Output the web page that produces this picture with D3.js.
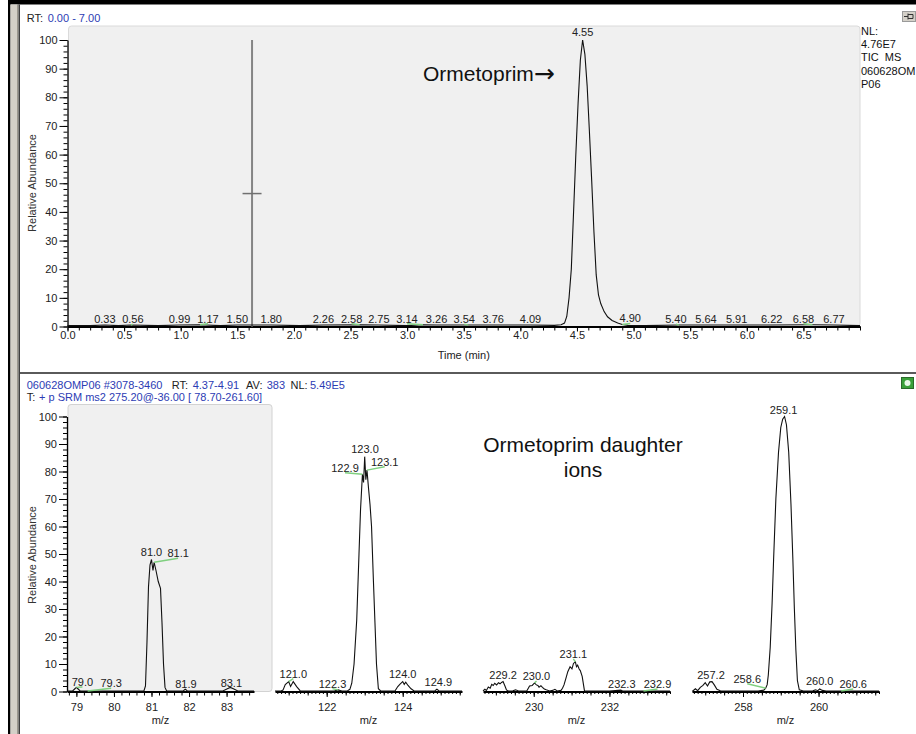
<!DOCTYPE html>
<html>
<head>
<meta charset="utf-8">
<script src="https://cdn.jsdelivr.net/npm/d3@7"></script>
<style>
  body { margin: 0; background: #fff; }
  svg { display: block; font-family: "Liberation Sans", Arial, sans-serif; }
</style>
</head>
<body>
<svg id="chart" width="916" height="734"></svg>
<script>
// ---------------- Chromatogram (TIC) ----------------
const ticTime  = [0.00, 0.20, 0.33, 0.45, 0.56, 0.80, 0.99, 1.17, 1.35, 1.50, 1.80, 2.05, 2.26, 2.58, 2.75, 3.00, 3.14, 3.26, 3.54, 3.76, 4.09, 4.30, 4.36, 4.39, 4.41, 4.43, 4.45, 4.47, 4.49, 4.51, 4.53, 4.55, 4.57, 4.59, 4.61, 4.63, 4.65, 4.67, 4.69, 4.71, 4.74, 4.77, 4.81, 4.86, 4.90, 4.95, 5.10, 5.40, 5.64, 5.91, 6.22, 6.58, 6.77, 7.00];
const ticAbund = [0.3, 0.3, 0.5, 0.3, 0.5, 0.3, 0.5, 0.6, 0.3, 0.5, 0.5, 0.3, 0.5, 0.6, 0.5, 0.3, 0.6, 0.5, 0.5, 0.5, 0.5, 0.4, 0.6, 1.2, 3.5, 10, 20, 40, 60, 78, 93, 100, 95, 84, 68, 51, 33, 18, 11, 8, 5.2, 3.4, 2.1, 1.2, 0.7, 0.4, 0.3, 0.5, 0.5, 0.5, 0.5, 0.6, 0.5, 0.3];

// labelled chromatographic peaks (retention time, abundance at the apex)
const ticPeakRT    = [0.33, 0.56, 0.99, 1.17, 1.50, 1.80, 2.26, 2.58, 2.75, 3.14, 3.26, 3.54, 3.76, 4.09, 4.55, 4.90, 5.40, 5.64, 5.91, 6.22, 6.58, 6.77];
const ticPeakAbund = [0.5, 0.5, 0.5, 0.6, 0.5, 0.5, 0.5, 0.6, 0.5, 0.6, 0.5, 0.5, 0.5, 0.5, 100, 0.7, 0.5, 0.5, 0.5, 0.5, 0.6, 0.5];

// cursor (retention time, crossbar level)
const cursorRT = 1.63;
const cursorLevel = 46.4;

const timeTicks = [0.0, 0.5, 1.0, 1.5, 2.0, 2.5, 3.0, 3.5, 4.0, 4.5, 5.0, 5.5, 6.0, 6.5];
const abundTicks = [0, 10, 20, 30, 40, 50, 60, 70, 80, 90, 100];

// ---------------- Product ion spectrum (SRM, four m/z windows) ----------------
const seg1Domain = [78.75, 83.73];
const seg1Mz  = [78.75, 78.90, 78.96, 79.00, 79.04, 79.10, 79.30, 79.70, 80.20, 80.60, 80.80, 80.84, 80.88, 80.92, 80.96, 81.00, 81.04, 81.07, 81.12, 81.18, 81.24, 81.28, 81.32, 81.36, 81.40, 81.70, 81.85, 81.90, 81.95, 82.40, 82.90, 83.02, 83.10, 83.18, 83.30, 83.73];
const seg1Int = [0.2, 0.2, 1.0, 1.5, 1.0, 0.2, 0.2, 0.2, 0.2, 0.2, 0.3, 2, 18, 38, 46, 48, 44, 47, 44, 40, 37.5, 25, 10, 1.5, 0.3, 0.2, 0.3, 0.8, 0.3, 0.2, 0.2, 1.0, 1.5, 1.0, 0.2, 0.2];
const seg1LabelMz  = [79.0, 79.3, 81.0, 81.07, 81.9, 83.1];
const seg1LabelInt = [1.5, 0.2, 48, 47, 0.8, 1.5];
const seg1Ticks = [79, 80, 81, 82, 83];

const seg2Domain = [120.64, 125.56];
const seg2Mz  = [120.64, 120.80, 120.85, 120.91, 121.00, 121.05, 121.12, 121.21, 121.30, 121.40, 121.80, 122.20, 122.30, 122.40, 122.55, 122.61, 122.66, 122.72, 122.79, 122.85, 122.89, 122.94, 122.97, 123.00, 123.03, 123.06, 123.10, 123.14, 123.18, 123.23, 123.27, 123.31, 123.36, 123.42, 123.70, 123.80, 123.87, 123.93, 124.00, 124.04, 124.08, 124.14, 124.22, 124.30, 124.60, 124.85, 124.90, 124.95, 125.20, 125.56];
const seg2Int = [0.2, 0.2, 0.5, 2.5, 3.6, 1.8, 3.6, 1.8, 0.3, 0.2, 0.2, 0.2, 0.6, 0.2, 0.3, 0.8, 3, 10, 26, 50, 66, 79, 76, 85.4, 77, 80.5, 74, 68, 60, 40, 25, 10, 1, 0.2, 0.2, 0.3, 1.8, 2.7, 3.6, 2.6, 3.4, 2.2, 1.0, 0.2, 0.2, 0.3, 0.8, 0.3, 0.2, 0.2];
const seg2LabelMz  = [121.0, 122.3, 122.94, 123.0, 123.06, 124.0, 124.9];
const seg2LabelInt = [3.6, 0.6, 79, 85.4, 80.5, 3.6, 0.8];
const seg2Ticks = [122, 124];

const seg3Domain = [228.66, 233.60];
const seg3Mz  = [228.66, 228.71, 228.75, 228.80, 228.85, 228.89, 228.93, 228.97, 229.02, 229.07, 229.11, 229.15, 229.19, 229.24, 229.28, 229.32, 229.45, 229.52, 229.60, 229.75, 229.82, 229.89, 229.96, 230.02, 230.07, 230.11, 230.14, 230.19, 230.23, 230.28, 230.33, 230.42, 230.50, 230.56, 230.62, 230.72, 230.76, 230.80, 230.85, 230.90, 230.96, 231.01, 231.05, 231.10, 231.13, 231.16, 231.20, 231.23, 231.28, 231.34, 231.40, 232.00, 232.30, 232.35, 232.40, 233.00, 233.60];
const seg3Int = [0.2, 0.8, 0.4, 1.6, 1.2, 2.6, 2.2, 3.0, 2.4, 3.2, 2.8, 3.3, 3.6, 2.0, 0.6, 0.2, 0.3, 0.6, 0.2, 0.2, 0.3, 2.0, 2.2, 3.1, 2.4, 2.2, 1.6, 2.1, 1.5, 0.9, 0.6, 0.2, 0.4, 0.8, 0.2, 0.4, 1.2, 2.4, 4.8, 7.2, 9.0, 8.2, 10.2, 10.8, 9.0, 9.6, 8.2, 7.6, 5.5, 0.3, 0.2, 0.2, 0.5, 0.2, 0.2, 0.2, 0.2];
const seg3LabelMz  = [229.19, 230.02, 231.1, 232.3, 232.9];
const seg3LabelInt = [3.6, 3.1, 10.8, 0.5, 0.2];
const seg3Ticks = [230, 232];

const seg4Domain = [256.65, 261.60];
const seg4Mz  = [256.65, 256.68, 256.74, 256.80, 256.87, 256.94, 257.00, 257.06, 257.12, 257.18, 257.24, 257.31, 257.40, 257.60, 258.00, 258.40, 258.55, 258.60, 258.64, 258.67, 258.72, 258.77, 258.81, 258.87, 258.94, 259.00, 259.05, 259.10, 259.15, 259.21, 259.27, 259.32, 259.36, 259.40, 259.44, 259.49, 259.60, 259.85, 259.92, 259.98, 260.03, 260.10, 260.20, 260.60, 261.00, 261.60];
const seg4Int = [0.2, 0.3, 1.0, 0.3, 1.5, 2.2, 3.2, 2.0, 3.5, 3.6, 2.4, 0.8, 0.3, 0.2, 0.2, 0.2, 0.5, 1.2, 2.5, 6, 16, 32, 48, 70, 87, 96, 99, 100, 97, 87, 68, 48, 30, 15, 4, 0.6, 0.2, 0.3, 0.6, 0.3, 0.9, 0.4, 0.2, 0.2, 0.2, 0.2];
const seg4LabelMz  = [257.18, 258.6, 259.1, 260.03, 260.6];
const seg4LabelInt = [3.6, 1.2, 100, 0.9, 0.2];
const seg4Ticks = [258, 260];

// ---------------- drawing ----------------
const svg = d3.select("#chart");
const TXT = "#222";
const BLUE = "#2c3cb4";
const LEADER = "#7fcf7f";

// label offsets (px) so that neighbouring annotations do not collide
const ticNudge = { "0.56": 2, "1.17": 8, "2.58": -8, "3.14": -16, "3.54": -4, "4.90": 8, "5.40": -3, "6.58": -9 };
const specNudge = {
  "79.0": [6, 1.6], "79.3": [23.5, -0.7], "81.0": [0, -0.5], "81.1": [24, -2], "81.9": [0.6, 1.4], "83.1": [1, 2.3],
  "121.0": [4.6, -1], "122.3": [-5.6, 0.8], "122.9": [-17.4, 0.5], "123.0": [0.3, -1], "123.1": [17.7, -1.4], "124.0": [0, -1], "124.9": [1.4, -0.6],
  "229.2": [0, 0], "230.0": [2, 0], "231.1": [-2, -1], "232.3": [1, 0.6], "232.9": [14, 0],
  "257.2": [-1, 0.7], "258.6": [-18.4, -2.5], "259.1": [-1, 0], "260.0": [0, -1], "260.6": [12, 0]
};

// window frame
svg.append("rect").attr("width", 916).attr("height", 734).attr("fill", "#fff");
svg.append("rect").attr("x", 8).attr("y", 0).attr("width", 908).attr("height", 4.5).attr("fill", "#000");
svg.append("rect").attr("x", 8).attr("y", 0).attr("width", 2.5).attr("height", 734).attr("fill", "#000");
svg.append("rect").attr("x", 10.5).attr("y", 4.5).attr("width", 6.5).attr("height", 730).attr("fill", "#d4d0c8");
svg.append("rect").attr("x", 17).attr("y", 4.5).attr("width", 1.5).attr("height", 730).attr("fill", "#9c988f");
svg.append("rect").attr("x", 18.5).attr("y", 4.5).attr("width", 1.5).attr("height", 730).attr("fill", "#404040");
svg.append("rect").attr("x", 20).attr("y", 372).attr("width", 896).attr("height", 2).attr("fill", "#5a5a5a");

function styleAxis(g, width) {
  g.select(".domain").attr("stroke", "#000").attr("stroke-width", width);
  g.selectAll(".tick line").attr("stroke", "#000").attr("stroke-width", 1);
  g.selectAll(".tick text").attr("fill", TXT).attr("font-size", 11).attr("font-family", "Liberation Sans, Arial, sans-serif");
}

function minorRange(a, b, step) {
  const out = [];
  for (let v = Math.ceil(a / step - 1e-9) * step; v <= b + 1e-9; v += step) out.push(+v.toFixed(3));
  return out;
}

function yAxis(scale, x) {
  const gMin = svg.append("g").attr("transform", `translate(${x},0)`)
    .call(d3.axisLeft(scale).tickValues(minorRange(0, 100, 2)).tickSize(4).tickSizeOuter(0).tickFormat(""));
  gMin.select(".domain").remove();
  gMin.selectAll(".tick line").attr("stroke", "#000");
  const g = svg.append("g").attr("transform", `translate(${x},0)`)
    .call(d3.axisLeft(scale).tickValues(abundTicks).tickSize(8).tickSizeOuter(0).tickPadding(2));
  styleAxis(g, 1.3);
}

// ===== top panel: chromatogram =====
const xT = d3.scaleLinear().domain([0, 7]).range([67.5, 860]);
const yT = d3.scaleLinear().domain([0, 100]).range([326.5, 40]);

svg.append("rect").attr("x", 68.5).attr("y", 26).attr("width", 791.5).attr("height", 300.5)
  .attr("rx", 3).attr("fill", "#f0f0f0").attr("stroke", "#dadada");

yAxis(yT, 67.5);
{
  const gMin = svg.append("g").attr("transform", "translate(0,326.5)")
    .call(d3.axisBottom(xT).tickValues(minorRange(0, 7, 0.1)).tickSize(4).tickSizeOuter(0).tickFormat(""));
  gMin.select(".domain").remove();
  gMin.selectAll(".tick line").attr("stroke", "#000");
  const g = svg.append("g").attr("transform", "translate(0,326.5)")
    .call(d3.axisBottom(xT).tickValues(timeTicks).tickSize(5).tickSizeOuter(0).tickFormat(d3.format(".1f")));
  styleAxis(g, 2);
  g.selectAll(".tick text").attr("y", 12).attr("dy", 0);
}

// cursor
svg.append("line").attr("x1", xT(cursorRT)).attr("x2", xT(cursorRT)).attr("y1", yT(100)).attr("y2", yT(0))
  .attr("stroke", "#858585").attr("stroke-width", 2);
svg.append("line").attr("x1", xT(cursorRT) - 9.5).attr("x2", xT(cursorRT) + 9.5)
  .attr("y1", yT(cursorLevel)).attr("y2", yT(cursorLevel)).attr("stroke", "#707070").attr("stroke-width", 1.5);

// trace
svg.append("path").datum(ticTime.map((t, i) => [t, ticAbund[i]]))
  .attr("d", d3.line().x(d => xT(d[0])).y(d => yT(d[1])))
  .attr("fill", "none").attr("stroke", "#111").attr("stroke-width", 1.1);

// peak annotations
ticPeakRT.forEach((rt, i) => {
  const key = rt.toFixed(2);
  const dx = ticNudge[key] || 0;
  const px = xT(rt), py = yT(ticPeakAbund[i]);
  const by = py - 3 + (ticPeakAbund[i] > 50 ? -1 : 1);
  if (dx) {
    svg.append("line").attr("x1", px).attr("y1", py).attr("x2", px + dx).attr("y2", by + 1)
      .attr("stroke", LEADER).attr("stroke-width", 1.4);
  }
  svg.append("text").attr("x", px + dx).attr("y", by).attr("text-anchor", "middle")
    .attr("font-size", 11).attr("fill", TXT).text(key);
});

svg.append("text").attr("x", (67.5 + 860) / 2).attr("y", 358.5).attr("text-anchor", "middle")
  .attr("font-size", 11).attr("fill", TXT).text("Time (min)");
svg.append("text").attr("transform", "translate(36,183) rotate(-90)").attr("text-anchor", "middle")
  .attr("font-size", 11).attr("fill", "#333").text("Relative Abundance");

{
  const t = svg.append("text").attr("x", 423).attr("y", 81).attr("font-size", 21).attr("fill", "#111");
  t.append("tspan").text("Ormetoprim");
  t.append("tspan").attr("font-family", "DejaVu Sans").attr("font-size", 25).attr("dy", 1).text("→");
}

// header
{
  const t = svg.append("text").attr("y", 22).attr("font-size", 11);
  t.append("tspan").attr("x", 26.7).attr("fill", TXT).text("RT:");
  t.append("tspan").attr("x", 47.7).attr("fill", BLUE).text("0.00 - 7.00");
}
["NL:", "4.76E7", "TIC  MS", "060628OM", "P06"].forEach((s, i) => {
  svg.append("text").attr("x", 861).attr("y", 35 + i * 13.2).attr("font-size", 11).attr("fill", "#111")
    .attr("xml:space", "preserve").text(s);
});
// pin button
svg.append("rect").attr("x", 902.5).attr("y", 11.5).attr("width", 13).attr("height", 10).attr("fill", "#d4d0c8").attr("stroke", "#9a9a9a");
svg.append("path").attr("d", "M904,16.5H908M908,13.5V19.5M908,14.5H913V18.5H908").attr("fill", "none").attr("stroke", "#333").attr("stroke-width", 1);

// ===== bottom panel: spectrum =====
const yB = d3.scaleLinear().domain([0, 100]).range([691.5, 416.5]);
{
  const t1 = svg.append("text").attr("y", 389).attr("font-size", 11);
  [[26.7, BLUE, "060628OMP06 #3078-3460"], [171.7, TXT, "RT:"], [192.7, BLUE, "4.37-4.91"],
   [246, TXT, "AV:"], [266.7, BLUE, "383"], [290.5, TXT, "NL:"], [310, BLUE, "5.49E5"]]
    .forEach(([x, c, s]) => t1.append("tspan").attr("x", x).attr("fill", c).text(s));
  const t2 = svg.append("text").attr("y", 401).attr("font-size", 11);
  t2.append("tspan").attr("x", 26.7).attr("fill", TXT).text("T:");
  t2.append("tspan").attr("x", 39).attr("fill", BLUE).text("+ p SRM ms2 275.20@-36.00 [ 78.70-261.60]");
}
// status button
svg.append("rect").attr("x", 901.5).attr("y", 377.5).attr("width", 12).attr("height", 11).attr("fill", "#3aa03a").attr("stroke", "#2a6a2a");
svg.append("circle").attr("cx", 907.5).attr("cy", 383).attr("r", 3).attr("fill", "#e8f8e8");

// first window is the active one
svg.append("rect").attr("x", 68).attr("y", 404.5).attr("width", 204).attr("height", 287)
  .attr("rx", 3).attr("fill", "#f0f0f0").attr("stroke", "#d2d2d2");

yAxis(yB, 67);

const segments = [
  { domain: seg1Domain, range: [67, 254],  mz: seg1Mz, int: seg1Int, lmz: seg1LabelMz, lint: seg1LabelInt, ticks: seg1Ticks, minor: 0.2, mid: null },
  { domain: seg2Domain, range: [275, 462], mz: seg2Mz, int: seg2Int, lmz: seg2LabelMz, lint: seg2LabelInt, ticks: seg2Ticks, minor: 0.1, mid: 0.5 },
  { domain: seg3Domain, range: [483, 670], mz: seg3Mz, int: seg3Int, lmz: seg3LabelMz, lint: seg3LabelInt, ticks: seg3Ticks, minor: 0.1, mid: 0.5 },
  { domain: seg4Domain, range: [692, 879], mz: seg4Mz, int: seg4Int, lmz: seg4LabelMz, lint: seg4LabelInt, ticks: seg4Ticks, minor: 0.1, mid: 0.5 }
];

segments.forEach(s => {
  const x = d3.scaleLinear().domain(s.domain).range(s.range);
  const gMin = svg.append("g").attr("transform", "translate(0,691.5)")
    .call(d3.axisBottom(x).tickValues(minorRange(s.domain[0], s.domain[1], s.minor)).tickSize(s.mid ? 2.5 : 4).tickSizeOuter(0).tickFormat(""));
  gMin.select(".domain").remove();
  gMin.selectAll(".tick line").attr("stroke", "#000");
  if (s.mid) {
    const gMid = svg.append("g").attr("transform", "translate(0,691.5)")
      .call(d3.axisBottom(x).tickValues(minorRange(s.domain[0], s.domain[1], s.mid)).tickSize(4).tickSizeOuter(0).tickFormat(""));
    gMid.select(".domain").remove();
    gMid.selectAll(".tick line").attr("stroke", "#000");
  }
  const g = svg.append("g").attr("transform", "translate(0,691.5)")
    .call(d3.axisBottom(x).tickValues(s.ticks).tickSize(5.5).tickSizeOuter(0).tickFormat(d3.format("d")));
  styleAxis(g, 2);
  g.selectAll(".tick text").attr("y", 19).attr("dy", 0);

  svg.append("text").attr("x", (s.range[0] + s.range[1]) / 2).attr("y", 724).attr("text-anchor", "middle")
    .attr("font-size", 11).attr("fill", TXT).text("m/z");

  svg.append("path").datum(s.mz.map((m, i) => [m, s.int[i]]))
    .attr("d", d3.line().x(d => x(d[0])).y(d => yB(d[1])))
    .attr("fill", "none").attr("stroke", "#111").attr("stroke-width", 1.1);

  s.lmz.forEach((m, i) => {
    const key = m.toFixed(1);
    const [dx, dy] = specNudge[key] || [0, 0];
    const px = x(m), py = yB(s.lint[i]);
    const by = py - 3 + dy;
    if (Math.abs(dx) >= 1.5) {
      svg.append("line").attr("x1", px).attr("y1", py).attr("x2", px + dx).attr("y2", by + 1)
        .attr("stroke", LEADER).attr("stroke-width", 1.4);
    }
    svg.append("text").attr("x", px + dx).attr("y", by).attr("text-anchor", "middle")
      .attr("font-size", 11).attr("fill", TXT).text(key);
  });
});

svg.append("text").attr("transform", "translate(36,555) rotate(-90)").attr("text-anchor", "middle")
  .attr("font-size", 11).attr("fill", "#333").text("Relative Abundance");

svg.append("text").attr("x", 583).attr("y", 452.3).attr("text-anchor", "middle").attr("font-size", 21).attr("fill", "#111").text("Ormetoprim daughter");
svg.append("text").attr("x", 583).attr("y", 476.7).attr("text-anchor", "middle").attr("font-size", 21).attr("fill", "#111").text("ions");
</script>
</body>
</html>
